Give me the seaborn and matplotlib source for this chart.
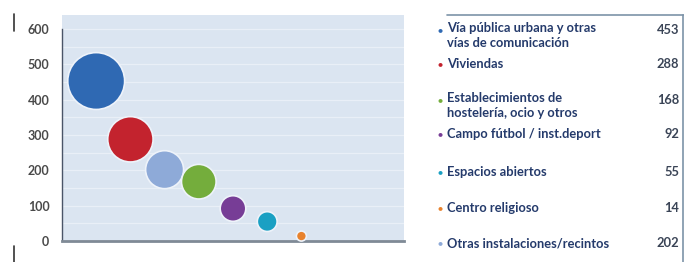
import pandas as pd
import matplotlib.pyplot as plt
import seaborn as sns
from matplotlib.lines import Line2D

# Data
categories = ["Vía pública urbana y otras\nvías de comunicación", "Viviendas",
              "Otras instalaciones/recintos", "Establecimientos de\nhostelería, ocio y otros",
              "Campo fútbol / inst.deport", "Espacios abiertos", "Centro religioso"]
values = [453, 288, 202, 168, 92, 55, 14]
x_pos = [0.5, 1.0, 1.5, 2.0, 2.5, 3.0, 3.5]
colors = ["#2f69b3", "#c3232e", "#8eaad8", "#74ad3c", "#773d96", "#1aa0c3", "#e8822d"]

# legend order as in the table on the right
legend_order = [0, 1, 3, 4, 5, 6, 2]
y_ticks = [0, 100, 200, 300, 400, 500, 600]

df = pd.DataFrame({"cat": categories, "x": x_pos, "value": values})

sns.set_style("white")
plt.rcParams["font.family"] = ["Lato", "DejaVu Sans"]

fig = plt.figure(figsize=(6.84, 2.62), dpi=100)
ax = fig.add_axes([62 / 684, 21 / 262, 342 / 684, 226 / 262])
ax.set_facecolor("#dbe5f1")

for yy in range(50, 650, 50):
    ax.axhline(yy, color="#e9eff7", lw=0.9, zorder=0)

sns.scatterplot(data=df, x="x", y="value", hue="cat", palette=colors,
                size="value", sizes=(14 * 3.7, 453 * 3.7), size_norm=(14, 453),
                edgecolor="#eef3fa", linewidth=1.2, legend=False, ax=ax,
                clip_on=False, zorder=3)

ax.set_xlim(0, 5)
ax.set_ylim(0, 640)
ax.set_xticks(range(6))
ax.set_xticklabels([])
ax.set_yticks(y_ticks)
ax.set_yticklabels([str(v) for v in y_ticks], fontsize=9, fontweight="bold", color="#4a4a4a")
ax.set_xlabel("")
ax.set_ylabel("")
ax.tick_params(axis="both", length=3, width=0.8, color="#555555", direction="out")
ax.tick_params(axis="y", pad=6)
for s in ["top", "right"]:
    ax.spines[s].set_visible(False)
ax.spines["left"].set_color("#4a5568")
ax.spines["left"].set_linewidth(1.0)
ax.spines["left"].set_bounds(0, 600)
ax.spines["bottom"].set_color("#7f8a96")
ax.spines["bottom"].set_linewidth(2.0)

# legend table on the right
text_y = [30, 64, 100, 134, 172, 208, 243]
for k, i in enumerate(legend_order):
    fy = 1 - text_y[k] / 262
    two_lines = "\n" in categories[i]
    fig.text(440 / 684, fy, "●", color=colors[i], fontsize=6, va="center", ha="center")
    fig.text(447 / 684, fy + (0.03 if two_lines else 0), categories[i],
             fontsize=9.3, fontweight="bold", color="#243a6b",
             va="top" if two_lines else "center", linespacing=1.25)
    fig.text(679 / 684, fy, str(values[i]), fontsize=9.3, fontweight="bold",
             color="#3a4456", va="center", ha="right")

fig.add_artist(Line2D([447 / 684, 1], [1 - 15 / 262] * 2, color="#7d93a8", lw=1.2))
fig.add_artist(Line2D([682.5 / 684] * 2, [1 - 15 / 262, 0], color="#7d93a8", lw=1.2))
fig.add_artist(Line2D([14 / 684] * 2, [1 - 14 / 262, 1 - 31 / 262], color="#333333", lw=1.2))
fig.add_artist(Line2D([14 / 684] * 2, [1 - 246 / 262, 0], color="#333333", lw=1.2))

fig.savefig("out.png", dpi=100)
